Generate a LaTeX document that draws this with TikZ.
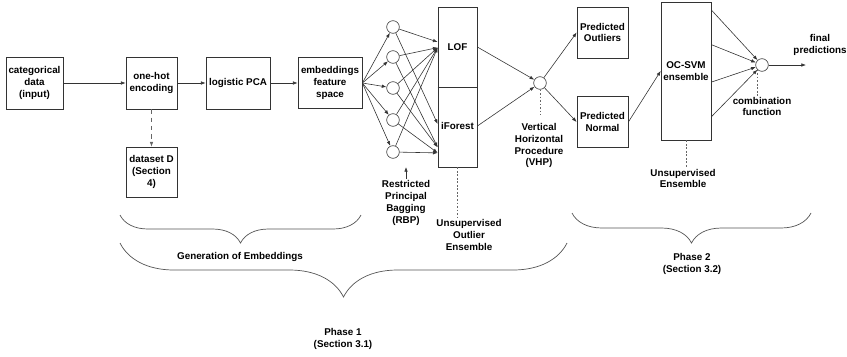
\documentclass[tikz,border=0pt]{standalone}
\usepackage{fontspec}
\setmainfont{Liberation Sans}
\usetikzlibrary{arrows.meta,calc,decorations.pathreplacing}
\definecolor{edge}{HTML}{333333}
\definecolor{note}{HTML}{666666}
\definecolor{brc}{HTML}{555555}

\begin{document}
\begin{tikzpicture}[x=0.03cm,y=-0.03cm,
  every node/.style={font=\fontsize{8.4}{10.2}\selectfont\bfseries, text=black},
  box/.style={draw=edge, line width=0.6pt, align=center, inner sep=1pt},
  dot/.style={draw=edge, line width=0.5pt, circle, minimum size=0.38cm, inner sep=0pt},
  lbl/.style={align=center, inner sep=1pt},
  arr/.style={draw=edge, line width=0.5pt, -{Latex[length=4pt,width=3pt]}},
  guide/.style={draw=note, line width=0.5pt, dash pattern=on 1.5pt off 1.5pt},
  curly/.style={draw=brc, line width=0.6pt, decorate, decoration={brace, mirror, amplitude=#1}}]
  \useasboundingbox (0,0) rectangle (847,356);
  % embedding pipeline
  \node[box, minimum width=1.71cm, minimum height=1.56cm] (cat) at (34.5,83) {categorical\\data\\(input)};
  \node[box, minimum width=1.53cm, minimum height=1.56cm] (hot) at (151.5,83) {one-hot\\encoding};
  \node[box, minimum width=1.53cm, minimum height=1.5cm] (data) at (151.5,172) {dataset D\\(Section\\4)};
  \node[box, minimum width=1.92cm, minimum height=1.56cm] (lpca) at (238,83) {logistic PCA};
  \node[box, minimum width=1.92cm, minimum height=1.53cm] (emb) at (330,83) {embeddings\\feature\\space};
  \draw[arr] (cat) -- (hot);
  \draw[arr] (hot) -- (lpca);
  \draw[arr] (lpca) -- (emb);
  \draw[arr, draw=note, dash pattern=on 4pt off 3pt] (hot) -- (data);
  % bagging
  \foreach \i/\y in {1/27,2/57,3/88,4/120,5/152}{
    \node[dot] (c\i) at (393,\y) {};
    \draw[arr] (emb.east) -- (c\i);}
  \node[box, minimum width=1.17cm, minimum height=4.8cm] (ens) at (457.5,87) {};
  \draw[edge, line width=0.6pt] (ens.west) -- (ens.east);
  \node (lof) at (457.5,47) {LOF};
  \node (ifo) at (457.5,126) {iForest};
  \coordinate (l1) at ($(ens.north west)!0.22!(ens.south west)$);
  \coordinate (l2) at ($(ens.north west)!0.255!(ens.south west)$);
  \coordinate (f1) at ($(ens.north west)!0.73!(ens.south west)$);
  \coordinate (f2) at ($(ens.north west)!0.875!(ens.south west)$);
  \coordinate (f3) at ($(ens.north west)!0.91!(ens.south west)$);
  \draw[arr] (c1) -- (l1);
  \draw[arr] (c1) -- (f1);
  \foreach \i/\t in {2/f2,3/f2,4/f3,5/f3}{
    \draw[arr] (c\i) -- (l2);
    \draw[arr] (c\i) -- (\t);}
  % vertical horizontal procedure
  \node[dot] (vhp) at (540,83) {};
  \draw[arr] (ens.east |- lof) -- (vhp);
  \draw[arr] (ens.east |- ifo) -- (vhp);
  \node[box, minimum width=1.53cm, minimum height=1.53cm] (pout) at (602.5,32.5) {Predicted\\Outliers};
  \node[box, minimum width=1.53cm, minimum height=1.53cm] (pnor) at (602.5,122) {Predicted\\Normal};
  \draw[arr] (vhp) -- (pout.west);
  \draw[arr] (vhp) -- (pnor.west);
  % phase 2
  \node[box, minimum width=1.5cm, minimum height=4.14cm] (svm) at (686,71) {OC-SVM\\ensemble};
  \draw[arr] (pnor.east) -- (svm.west);
  \node[dot] (comb) at (762,65) {};
  \foreach \p in {0.06,0.31,0.58,0.83}
    \draw[arr] ($(svm.north east)!\p!(svm.south east)$) -- (comb);
  \coordinate (out) at (806,65);
  \draw[arr] (comb) -- (out);
  \node[lbl] (fin) at (820,45) {final\\predictions};
  % annotations
  \node[lbl] (rbp) at (406,203) {Restricted\\Principal\\Bagging\\(RBP)};
  \coordinate (rbpt) at (406,167);
  \draw[arr] (rbp) -- (rbpt);
  \node[lbl] (uoe) at (469,235) {Unsupervised\\Outlier\\Ensemble};
  \draw[guide] (ens.south) -- (ens.south |- uoe.north);
  \node[lbl] (vhpl) at (539,145.5) {Vertical\\Horizontal\\Procedure\\(VHP)};
  \draw[guide, shorten >=6pt] (vhp.south) -- (vhp.south |- vhpl.north);
  \node[lbl] (cmbl) at (762,106.5) {combination\\function};
  \draw[guide] (comb.south west) -- (comb.south west |- cmbl.north);
  \node[lbl] (uel) at (683,178.5) {Unsupervised\\Ensemble};
  \draw[guide] (svm.south) -- (svm.south |- uel.north);
  % braces
  \coordinate (g1) at (120,215);
  \coordinate (g2) at (361,215);
  \draw[curly=0.84cm] (g1) -- (g2);
  \node[lbl] (genl) at (240,257) {Generation of Embeddings};
  \coordinate (p1a) at (120,243);
  \coordinate (p1b) at (567,243);
  \draw[curly=1.62cm] (p1a) -- (p1b);
  \node[lbl] (ph1) at (343,339) {Phase 1\\(Section 3.1)};
  \coordinate (p2a) at (572,213);
  \coordinate (p2b) at (811,213);
  \draw[curly=0.9cm] (p2a) -- (p2b);
  \node[lbl] (ph2) at (692,264) {Phase 2\\(Section 3.2)};
\end{tikzpicture}
\end{document}
